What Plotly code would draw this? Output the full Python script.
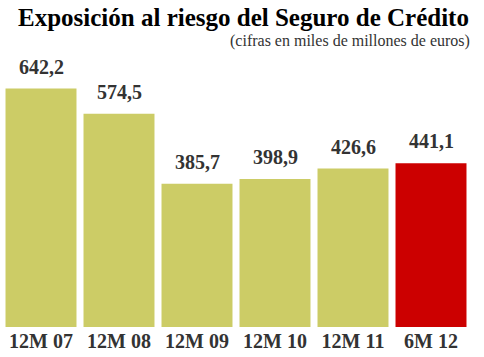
import plotly.graph_objects as go

categories = ["12M 07", "12M 08", "12M 09", "12M 10", "12M 11", "6M 12"]
values = [642.2, 574.5, 385.7, 398.9, 426.6, 441.1]
value_labels = ["642,2", "574,5", "385,7", "398,9", "426,6", "441,1"]
colors = ["#cccc66"] * 5 + ["#cc0000"]

FONT = "Liberation Serif"

fig = go.Figure()
fig.add_trace(go.Bar(
    x=categories, y=values, marker=dict(color=colors, line=dict(width=0)),
    hoverinfo="skip",
))

for c, v, t in zip(categories, values, value_labels):
    fig.add_annotation(
        x=c, y=v, text="<b>%s</b>" % t, showarrow=False,
        yanchor="bottom", yshift=9,
        font=dict(family=FONT, size=20, color="#333333"),
    )

fig.add_annotation(
    xref="paper", yref="paper", x=0.517, y=1, yshift=33, xanchor="center", yanchor="middle",
    text="<b>Exposición al riesgo del Seguro de Crédito</b>", showarrow=False,
    font=dict(family=FONT, size=25, color="#000000"),
)
fig.add_annotation(
    xref="paper", yref="paper", x=1.004, y=1, yshift=9, xanchor="right", yanchor="middle",
    text="(cifras en miles de millones de euros)", showarrow=False,
    font=dict(family=FONT, size=16, color="#333333"),
)

fig.update_layout(
    width=484, height=357,
    margin=dict(l=2, r=14, t=50, b=30, pad=0),
    paper_bgcolor="white", plot_bgcolor="white",
    bargap=0.09,
    showlegend=False,
    xaxis=dict(
        showgrid=False, zeroline=False, showline=False, ticks="",
        tickfont=dict(family=FONT, size=20, color="#333333", weight="bold"),
    ),
    yaxis=dict(range=[0, 746], visible=False, showgrid=False, zeroline=False),
)

fig.write_html(
    "out.html",
    config={"displayModeBar": False},
    post_script="document.body.style.margin='0';document.body.style.padding='0';",
)
